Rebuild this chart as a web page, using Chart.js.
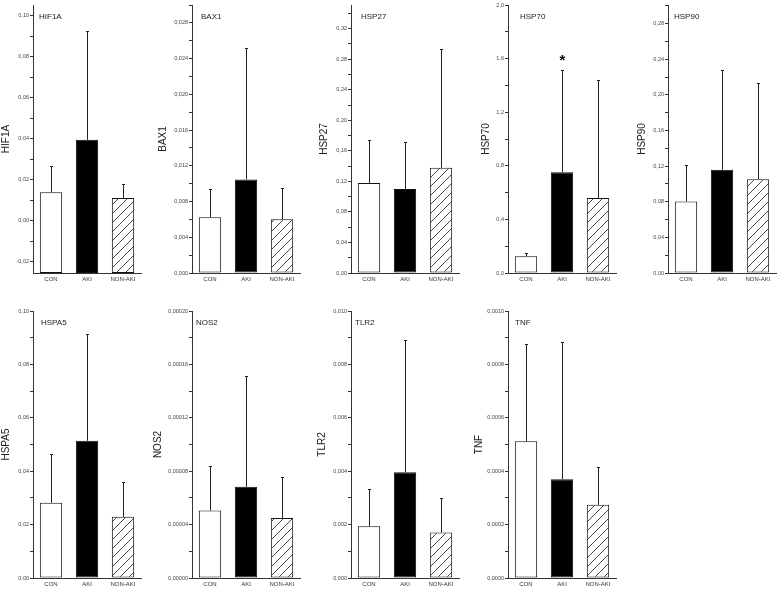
<!DOCTYPE html>
<html>
<head>
<meta charset="utf-8">
<script src="https://cdn.jsdelivr.net/npm/chart.js@4.4.1/dist/chart.umd.min.js"></script>
<style>
  html, body { margin: 0; padding: 0; background: #fff; }
  body { width: 778px; height: 589px; position: relative; overflow: hidden; }
  .panel { position: absolute; }
</style>
</head>
<body>
<script>
const categories = ['CON', 'AKI', 'NON-AKI'];
const genes = ['HIF1A', 'BAX1', 'HSP27', 'HSP70', 'HSP90', 'HSPA5', 'NOS2', 'TLR2', 'TNF'];

// group means, one entry per gene (same order as genes)
const conMean    = [0.0139, 0.00625, 0.118, 0.1245, 0.0803, 0.0282, 0.0000506, 0.00194, 0.000512];
const akiMean    = [0.0395, 0.01048, 0.110, 0.752, 0.1159, 0.0514, 0.0000683, 0.00396, 0.000370];
const nonAkiMean = [0.0111, 0.00602, 0.1377, 0.560, 0.1054, 0.0229, 0.0000449, 0.00170, 0.000274];

// upper error bars
const conErr    = [0.0128, 0.00314, 0.056, 0.028, 0.0405, 0.0184, 0.0000332, 0.00140, 0.000366];
const akiErr    = [0.0532, 0.0147, 0.061, 0.760, 0.1119, 0.0401, 0.0000831, 0.00494, 0.000514];
const nonAkiErr = [0.0071, 0.00352, 0.156, 0.877, 0.1077, 0.0129, 0.0000304, 0.00129, 0.000141];

// significance mark over the AKI bar
const akiStar = ['', '', '', '*', '', '', '', '', ''];

// y axis tick labels (major ticks)
const yTickLabels = [
  ['-0,02', '0,00', '0,02', '0,04', '0,06', '0,08', '0,10'],
  ['0,000', '0,004', '0,008', '0,012', '0,016', '0,020', '0,024', '0,028'],
  ['0,00', '0,04', '0,08', '0,12', '0,16', '0,20', '0,24', '0,28', '0,32'],
  ['0,0', '0,4', '0,8', '1,2', '1,6', '2,0'],
  ['0,00', '0,04', '0,08', '0,12', '0,16', '0,20', '0,24', '0,28'],
  ['0,00', '0,02', '0,04', '0,06', '0,08', '0,10'],
  ['0,00000', '0,00004', '0,00008', '0,00012', '0,00016', '0,00020'],
  ['0,000', '0,002', '0,004', '0,006', '0,008', '0,010'],
  ['0,0000', '0,0002', '0,0004', '0,0006', '0,0008', '0,0010']
];
const yMin = [-0.0254, 0, 0, 0, 0, 0, 0, 0, 0];
const yMax = [0.1052, 0.0300, 0.351, 2.0, 0.301, 0.10, 0.0002, 0.010, 0.0010];

// layout: x of each y axis, gap to the rotated axis title, gap to the inner label
const axisX = [33, 192, 351, 508, 668, 33, 192, 351, 508];
const titleGap = [27, 29, 27, 22, 26, 27, 35, 29, 29];
const labelGap = [6, 9, 10, 12, 6, 8, 4, 4, 7];

const FONT = "'Liberation Sans', Arial, sans-serif";
Chart.defaults.font.family = FONT;

function hatchPattern() {
  const c = document.createElement('canvas');
  c.width = 9; c.height = 9;
  const g = c.getContext('2d');
  g.fillStyle = '#fff';
  g.fillRect(0, 0, 9, 9);
  g.strokeStyle = '#333';
  g.lineWidth = 0.9;
  g.beginPath();
  g.moveTo(-1, 10); g.lineTo(10, -1);
  g.moveTo(-1, 1); g.lineTo(1, -1);
  g.moveTo(8, 10); g.lineTo(10, 8);
  g.stroke();
  return g.createPattern(c, 'repeat');
}
const hatch = hatchPattern();

function tickList(k) {
  const labels = yTickLabels[k];
  const vals = labels.map(s => parseFloat(s.replace(',', '.')));
  const step = vals[1] - vals[0];
  const eps = step * 1e-6;
  let list = [];
  if (vals[0] - step / 2 >= yMin[k] - eps) list.push({ value: vals[0] - step / 2, lbl: '' });
  vals.forEach((v, j) => {
    list.push({ value: v, lbl: labels[j] });
    if (j < vals.length - 1 || v + step / 2 <= yMax[k] + eps) list.push({ value: v + step / 2, lbl: '' });
  });
  return list;
}

const errorBars = {
  id: 'errorBars',
  afterDatasetsDraw(chart, args, opts) {
    const ctx = chart.ctx;
    const y = chart.scales.y;
    const area = chart.chartArea;
    const meta = chart.getDatasetMeta(0);
    ctx.save();
    ctx.strokeStyle = '#222';
    ctx.lineWidth = 1;
    meta.data.forEach((bar, i) => {
      const top = Math.round(y.getPixelForValue(opts.mean[i] + opts.err[i])) + 0.5;
      const x = Math.round(bar.x) + 0.5;
      ctx.beginPath();
      ctx.moveTo(x, bar.y);
      ctx.lineTo(x, top);
      ctx.moveTo(x - 1.5, top);
      ctx.lineTo(x + 1.5, top);
      ctx.stroke();
      if (opts.star[i]) {
        ctx.fillStyle = '#111';
        ctx.font = 'bold 15px ' + FONT;
        ctx.textAlign = 'center';
        ctx.textBaseline = 'top';
        ctx.fillText(opts.star[i], x, top - 17);
      }
    });
    ctx.fillStyle = '#222';
    ctx.font = '8px ' + FONT;
    ctx.textAlign = 'left';
    ctx.textBaseline = 'middle';
    ctx.fillText(opts.label, area.left + opts.labelGap, area.top + 12);
    ctx.restore();
  }
};

genes.forEach((gene, k) => {
  const topRow = k < 5;
  const wrap = document.createElement('div');
  wrap.className = 'panel';
  wrap.style.left = (axisX[k] - 40) + 'px';
  wrap.style.top = (topRow ? 0 : 290) + 'px';
  const canvas = document.createElement('canvas');
  canvas.width = 150;
  canvas.height = topRow ? 290 : 299;
  wrap.appendChild(canvas);
  document.body.appendChild(wrap);

  const mean = [conMean[k], akiMean[k], nonAkiMean[k]];
  const err = [conErr[k], akiErr[k], nonAkiErr[k]];

  new Chart(canvas, {
    type: 'bar',
    data: {
      labels: categories,
      datasets: [{
        data: mean,
        base: yMin[k],
        backgroundColor: ['#ffffff', '#000000', hatch],
        borderColor: '#111',
        borderWidth: 1,
        borderSkipped: false,
        barPercentage: 0.62,
        categoryPercentage: 1
      }]
    },
    options: {
      responsive: false,
      animation: false,
      devicePixelRatio: 1,
      layout: { padding: { top: topRow ? 5 : 21, right: 2, left: 0, bottom: 0 } },
      plugins: {
        legend: { display: false },
        tooltip: { enabled: false },
        errorBars: { mean: mean, err: err, star: ['', akiStar[k], ''], label: gene, labelGap: labelGap[k] }
      },
      scales: {
        x: {
          grid: { display: false, drawTicks: false },
          border: { display: true, color: '#333', width: 1 },
          ticks: { font: { size: 6 }, color: '#333', padding: 3, maxRotation: 0 },
          afterFit: s => { s.height = topRow ? 17 : 11; }
        },
        y: {
          min: yMin[k],
          max: yMax[k],
          grid: { display: true, drawOnChartArea: false, drawTicks: true, tickLength: 3, color: '#333' },
          border: { display: true, color: '#333', width: 1 },
          ticks: {
            autoSkip: false,
            font: { size: 5.5 },
            color: '#444',
            padding: 1,
            callback: (v, i, ticks) => ticks[i].lbl
          },
          afterBuildTicks: s => { s.ticks = tickList(k); },
          afterFit: s => { s.width = 40; },
          title: {
            display: true,
            text: gene,
            color: '#222',
            font: { size: 10 },
            padding: { top: Math.max(0, 40 - titleGap[k] - 6), bottom: 0 }
          }
        }
      }
    },
    plugins: [errorBars]
  });
});
</script>
</body>
</html>
